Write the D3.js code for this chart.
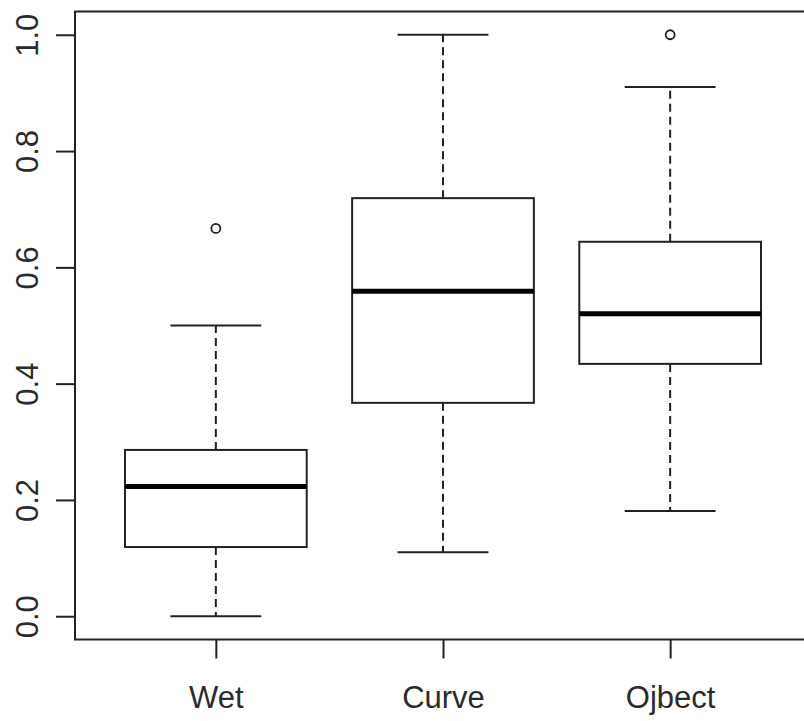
<!DOCTYPE html>
<html>
<head>
<meta charset="utf-8">
<script src="https://cdn.jsdelivr.net/npm/d3@7"></script>
<style>
  html, body { margin: 0; padding: 0; background: #fff; }
  svg { display: block; }
  text { font-family: "Liberation Sans", Arial, sans-serif; fill: #2b2b2b; }
</style>
</head>
<body>
<div id="chart"></div>
<script>
// Box statistics
const categories = ['Wet', 'Curve', 'Ojbect'];
const lowerWhisker = [0.0, 0.11, 0.181];
const q1 = [0.119, 0.367, 0.434];
const median = [0.223, 0.559, 0.52];
const q3 = [0.286, 0.719, 0.644];
const upperWhisker = [0.5, 1.0, 0.91];
const outliers = [[0.667], [], [1.0]];
const yTicks = [0.0, 0.2, 0.4, 0.6, 0.8, 1.0];

const width = 804, height = 721;
const ink = '#222';

const svg = d3.select('#chart')
  .append('svg')
  .attr('width', width)
  .attr('height', height);

// R-style 4% expansion on both axes; right edge of the plot falls off the canvas
const x = d3.scaleLinear().domain([0.38, 3.62]).range([75, 811]);
const y = d3.scaleLinear().domain([-0.04, 1.04]).range([639.5, 11.5]);

const boxes = categories.map((c, i) => ({
  name: c,
  pos: i + 1,
  lo: lowerWhisker[i],
  q1: q1[i],
  med: median[i],
  q3: q3[i],
  hi: upperWhisker[i],
  out: outliers[i]
}));

const boxHalf = 0.4;
const capHalf = 0.2;

const g = svg.append('g').attr('class', 'boxes');

const box = g.selectAll('g.box')
  .data(boxes)
  .enter()
  .append('g')
  .attr('class', 'box');

// whiskers (dashed)
box.append('line')
  .attr('x1', d => x(d.pos)).attr('x2', d => x(d.pos))
  .attr('y1', d => y(d.q3)).attr('y2', d => y(d.hi))
  .attr('stroke', ink).attr('stroke-width', 2)
  .attr('stroke-dasharray', '8,5');

box.append('line')
  .attr('x1', d => x(d.pos)).attr('x2', d => x(d.pos))
  .attr('y1', d => y(d.q1)).attr('y2', d => y(d.lo))
  .attr('stroke', ink).attr('stroke-width', 2)
  .attr('stroke-dasharray', '8,5');

// whisker caps
box.append('line')
  .attr('x1', d => x(d.pos - capHalf)).attr('x2', d => x(d.pos + capHalf))
  .attr('y1', d => y(d.hi)).attr('y2', d => y(d.hi))
  .attr('stroke', ink).attr('stroke-width', 2);

box.append('line')
  .attr('x1', d => x(d.pos - capHalf)).attr('x2', d => x(d.pos + capHalf))
  .attr('y1', d => y(d.lo)).attr('y2', d => y(d.lo))
  .attr('stroke', ink).attr('stroke-width', 2);

// box
box.append('rect')
  .attr('x', d => x(d.pos - boxHalf))
  .attr('y', d => y(d.q3))
  .attr('width', d => x(d.pos + boxHalf) - x(d.pos - boxHalf))
  .attr('height', d => y(d.q1) - y(d.q3))
  .attr('fill', '#fff')
  .attr('stroke', ink).attr('stroke-width', 2);

// median
box.append('line')
  .attr('x1', d => x(d.pos - boxHalf)).attr('x2', d => x(d.pos + boxHalf))
  .attr('y1', d => y(d.med)).attr('y2', d => y(d.med))
  .attr('stroke', '#000').attr('stroke-width', 5);

// outliers
box.selectAll('circle')
  .data(d => d.out.map(v => ({ pos: d.pos, v })))
  .enter()
  .append('circle')
  .attr('cx', d => x(d.pos))
  .attr('cy', d => y(d.v))
  .attr('r', 4.5)
  .attr('fill', 'none')
  .attr('stroke', ink).attr('stroke-width', 1.8);

// plot frame
svg.append('rect')
  .attr('x', x.range()[0])
  .attr('y', y.range()[1])
  .attr('width', x.range()[1] - x.range()[0])
  .attr('height', y.range()[0] - y.range()[1])
  .attr('fill', 'none')
  .attr('stroke', ink).attr('stroke-width', 2);

// y axis with rotated labels
const yAxis = svg.append('g')
  .attr('transform', `translate(${x.range()[0]},0)`)
  .call(d3.axisLeft(y).tickValues(yTicks).tickSize(19).tickFormat(d3.format('.1f')));

yAxis.select('.domain').remove();
yAxis.selectAll('.tick line').attr('stroke', ink).attr('stroke-width', 2);
yAxis.selectAll('.tick text')
  .attr('transform', 'rotate(-90)')
  .attr('x', 0)
  .attr('y', -48)
  .attr('dy', '0.35em')
  .attr('text-anchor', 'middle')
  .attr('font-size', 31)
  .attr('fill', '#2b2b2b');

// x axis
const xAxis = svg.append('g')
  .attr('transform', `translate(0,${y.range()[0]})`)
  .call(d3.axisBottom(x).tickValues([1, 2, 3]).tickSize(19)
    .tickFormat(d => categories[d - 1]));

xAxis.select('.domain').remove();
xAxis.selectAll('.tick line').attr('stroke', ink).attr('stroke-width', 2);
xAxis.selectAll('.tick text')
  .attr('y', 58)
  .attr('dy', '0.35em')
  .attr('font-size', 31)
  .attr('fill', '#2b2b2b');
</script>
</body>
</html>
